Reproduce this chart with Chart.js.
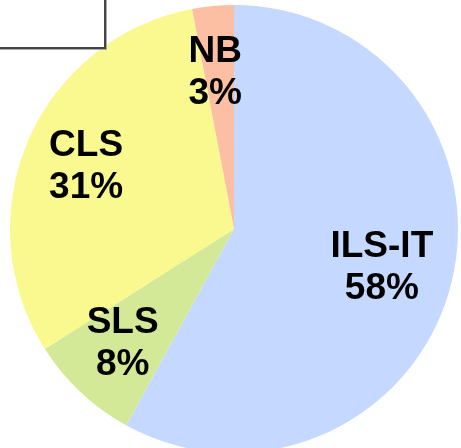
<!DOCTYPE html>
<html>
<head>
<meta charset="utf-8">
<script src="https://cdn.jsdelivr.net/npm/chart.js@4.4.0/dist/chart.umd.min.js"></script>
<style>
  html, body { margin: 0; padding: 0; background: #fff; overflow: hidden; }
  #wrap { position: relative; width: 461px; height: 453px; }
  #legendBox {
    position: absolute; left: -10px; top: -10px; width: 114px; height: 57px;
    border-right: 2px solid #444; border-bottom: 2px solid #444;
    box-shadow: 1px 1px 0 #aaa;
  }
</style>
</head>
<body>
<div id="wrap">
  <canvas id="pie" width="461" height="453"></canvas>
  <div id="legendBox"></div>
</div>
<script>
// Share of each category, clockwise from 12 o'clock
const categories = ['ILS-IT', 'SLS', 'CLS', 'NB'];
const shares = [58, 8, 31, 3];
const sliceColors = ['#c5d8ff', '#d4e997', '#f9f98f', '#fcbfa4'];

// Draws "name / nn%" inside each slice
const sliceLabels = {
  id: 'sliceLabels',
  afterDatasetsDraw(chart) {
    const ctx = chart.ctx;
    const meta = chart.getDatasetMeta(0);
    ctx.save();
    ctx.fillStyle = '#000';
    ctx.font = "bold 37px 'Liberation Sans', Arial, sans-serif";
    ctx.textAlign = 'center';
    ctx.textBaseline = 'middle';
    meta.data.forEach((arc, i) => {
      const p = arc.getProps(['x', 'y', 'startAngle', 'endAngle', 'outerRadius'], true);
      const mid = (p.startAngle + p.endAngle) / 2;
      const dist = p.outerRadius * 0.7;
      const x = p.x + Math.cos(mid) * dist - 4;
      const y = p.y + Math.sin(mid) * dist;
      ctx.fillText(categories[i], x, y - 21);
      ctx.fillText(shares[i] + '%', x, y + 21);
    });
    ctx.restore();
  }
};

new Chart(document.getElementById('pie').getContext('2d'), {
  type: 'pie',
  data: {
    labels: categories,
    datasets: [{
      data: shares,
      backgroundColor: sliceColors,
      borderWidth: 0
    }]
  },
  options: {
    responsive: false,
    animation: false,
    layout: { padding: { left: 10, right: 3, top: 5, bottom: 0 } },
    plugins: {
      legend: { display: false },
      tooltip: { enabled: false }
    }
  },
  plugins: [sliceLabels]
});
</script>
</body>
</html>
